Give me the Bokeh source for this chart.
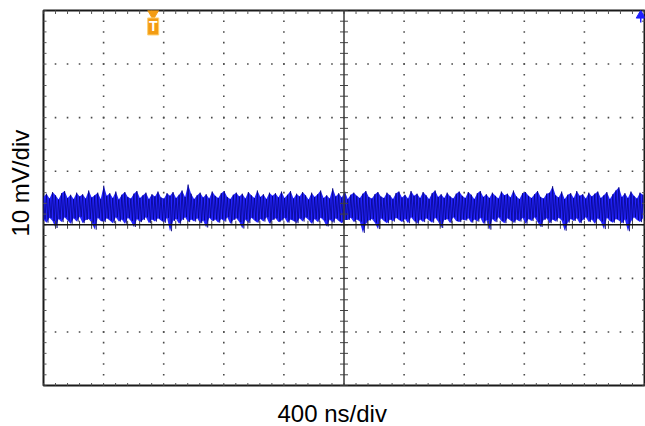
import numpy as np
from bokeh.plotting import figure
from bokeh.models import Range1d, Span, Title
from bokeh.core.properties import value
from bokeh.embed import file_html
from bokeh.resources import INLINE

# ---- scope settings ----
x_div_ns = 400          # 400 ns/div
y_div_mv = 10           # 10 mV/div
x_min, x_max = -2000, 2000
y_min, y_max = -30, 40
trigger_ns = -1270
ch_marker_ns = 1975
x_label = "400 ns/div"
y_label = "10 mV/div"

# ---- trace: per-sample upper / lower excursions (mV) ----
hi_mv = [5.2, 5.8, 4.9, 6.1, 5.5, 4.7, 5.9, 6.3, 5.0, 5.6, 4.8, 6.0, 5.3, 5.7, 4.9, 6.4, 5.1, 5.5, 6.0, 4.8,
         7.3, 5.4, 5.9, 5.0, 6.2, 4.7, 5.6, 6.1, 5.2, 4.9, 5.8, 6.3, 5.0, 5.5, 6.0, 4.8, 5.7, 5.3, 6.2, 5.1,
         4.9, 5.9, 5.4, 6.1, 5.0, 5.6, 6.4, 5.2, 7.5, 5.8, 4.8, 5.5, 6.0, 5.1, 5.7, 4.9, 6.2, 5.4, 5.0, 5.9,
         6.3, 5.2, 4.8, 5.6, 6.0, 5.3, 5.8, 4.9, 6.1, 5.5, 5.0, 6.4, 5.2, 5.7, 4.8, 6.0, 5.4, 5.9, 5.1, 6.2,
         5.0, 5.6, 6.3, 4.9, 5.8, 5.3, 6.1, 5.5, 4.7, 6.0, 5.2, 5.7, 6.4, 5.0, 5.5, 4.9, 6.8, 5.3, 5.9, 5.1,
         6.2, 4.8, 5.6, 6.0, 5.4, 5.0, 5.8, 6.3, 5.2, 4.9, 5.7, 6.1, 5.3, 5.0, 6.0, 5.5, 4.8, 5.9, 6.2, 5.1,
         5.6, 4.9, 6.3, 5.4, 5.8, 5.0, 6.1, 5.5, 4.8, 5.9, 6.4, 5.2, 5.7, 5.0, 6.0, 5.3, 4.9, 5.8, 6.2, 5.4,
         5.0, 6.1, 5.6, 4.8, 5.9, 6.3, 5.2, 5.7, 5.0, 6.0, 5.4, 4.9, 6.2, 5.5, 5.8, 5.1, 6.4, 5.3, 4.8, 5.9,
         6.1, 5.4, 5.0, 5.7, 6.3, 5.2, 4.9, 5.8, 6.0, 7.2, 5.5, 5.1, 6.2, 4.8, 5.6, 5.9, 5.0, 6.3, 5.4, 5.7,
         4.9, 6.0, 5.3, 5.8, 6.2, 5.0, 5.5, 6.1, 4.8, 5.7, 6.4, 7.0, 5.2, 5.9, 5.0, 6.2, 5.4, 4.9, 6.0, 5.6]
lo_mv = [1.0, 0.4, 1.3, 0.7, -0.6, 1.1, 0.5, 1.4, 0.8, 0.2, 1.2, 0.6, 1.5, 0.3, 0.9, 1.1, 0.4, -0.9, 1.3, 0.7,
         0.5, 1.2, 0.8, 0.3, 1.4, 0.6, 1.0, 0.2, 1.3, 0.7, -0.4, 1.1, 0.5, 0.9, 1.4, 0.3, 1.0, 0.6, 1.2, 0.8,
         0.4, 1.3, -1.2, 0.7, 1.1, 0.2, 0.9, 1.4, 0.5, 1.0, 0.6, 1.2, 0.3, 0.8, -0.5, 1.3, 0.7, 1.0, 0.4, 1.1,
         0.6, 1.4, 0.2, 0.9, 1.2, 0.5, -0.7, 1.0, 0.3, 1.3, 0.8, 0.4, 1.1, 0.6, 1.4, 0.2, 0.9, 1.2, 0.5, 0.8,
         1.3, 0.4, 1.0, 0.7, 0.3, 1.2, 0.6, 1.4, 0.9, 0.2, 1.1, 0.5, 1.3, 0.8, -0.3, 1.0, 0.4, 1.2, 0.7, 0.3,
         0.9, 0.9, 1.3, 0.5, 1.0, 0.6, -1.5, 0.2, 0.8, 1.1, 0.4, -0.8, 1.2, 0.7, 0.3, 1.0, 0.6, 1.3, 0.9, 0.5,
         1.1, 0.3, 1.4, 0.7, 0.2, 1.0, 0.5, 1.2, 0.8, 0.4, 1.3, 0.6, -0.6, 0.9, 1.1, 0.3, 1.4, 0.7, 0.5, 1.0,
         0.8, 1.2, 0.4, 1.0, 0.6, 1.3, 0.2, 0.9, -0.9, 1.1, 0.5, 1.4, 0.7, 0.3, 1.2, 0.8, 0.4, 1.0, 0.6, 1.3,
         0.2, 1.1, 0.7, 1.4, 0.5, -0.4, 0.9, 1.2, 0.3, 1.0, 0.6, 1.3, 0.8, -1.1, 0.4, 1.1, 0.7, 1.2, 0.3, 0.9,
         1.4, 0.5, 1.0, 0.2, 1.2, 0.6, -0.8, 1.3, 0.7, 0.4, 1.1, 0.8, 0.3, 1.0, -1.2, 0.6, 1.4, 0.9, 0.5, 1.2]

FONT = "Liberation Sans"
ORANGE = "#f39c12"

n = len(hi_mv)
t_ns = np.linspace(x_min, x_max, 2 * n)
v_mv = np.empty(2 * n)
v_mv[0::2] = hi_mv
v_mv[1::2] = lo_mv
t_pair = t_ns[0::2]

FRAME_W, FRAME_H = 601, 376
LEFT, TOP = 43, 10
p = figure(width=645, height=426,
           x_range=Range1d(x_min, x_max), y_range=Range1d(y_min, y_max),
           x_axis_location=None, y_axis_location=None,
           toolbar_location=None, output_backend="svg",
           min_border_left=LEFT, min_border_right=1, min_border_top=TOP, min_border_bottom=40,
           outline_line_color="#1a1a1a", outline_line_width=2,
           background_fill_color="white", border_fill_color="white")
p.xgrid.visible = False
p.ygrid.visible = False

mv_per_px = (y_max - y_min) / FRAME_H

# ---- graticule ----
x_major = np.arange(x_min, x_max + 1, x_div_ns)
y_major = np.arange(y_min, y_max + 1, y_div_mv)
x_minor = np.arange(x_min, x_max + 1, x_div_ns / 5)
y_minor = np.arange(y_min, y_max + 0.001, y_div_mv / 5)
x_inner = [x for x in x_major if x_min < x < x_max and x != 0]
y_inner = [y for y in y_major if y_min < y < y_max and y != 0]

gx, gy = [], []
for x in x_inner:
    for y in y_minor:
        gx.append(x); gy.append(y)
for y in y_inner:
    for x in x_minor:
        gx.append(x); gy.append(y)
p.scatter(gx, gy, marker="square", size=1.6, color="#4a4a4a", line_width=0)

# trace: filled envelope + sample line
p.varea(x=t_pair, y1=lo_mv, y2=hi_mv, fill_color="#2424ff", fill_alpha=1.0)
p.line(t_ns, v_mv, line_color="#000070", line_width=0.9, line_alpha=0.7)

# centre lines
p.add_layout(Span(location=0, dimension="height", line_color="#3a3a3a", line_width=1.5))
p.add_layout(Span(location=0, dimension="width", line_color="#111111", line_width=1.5))

# ticks on centre lines
p.scatter([0] * len(y_minor), y_minor, marker="dash", size=8, line_color="#444444", line_width=1)
p.scatter(x_minor, [0] * len(x_minor), marker="dash", angle=np.pi / 2, size=8,
          line_color="#444444", line_width=1)
# ticks on border
p.scatter(x_minor, [y_max] * len(x_minor), marker="dash", angle=np.pi / 2, size=7,
          line_color="#555555", line_width=1)
p.scatter(x_minor, [y_min] * len(x_minor), marker="dash", angle=np.pi / 2, size=5,
          line_color="#555555", line_width=1)
p.scatter([x_min] * len(y_minor), y_minor, marker="dash", size=6,
          line_color="#555555", line_width=1)
p.scatter([x_max] * len(y_minor), y_minor, marker="dash", size=5,
          line_color="#555555", line_width=1)

# trigger marker
p.scatter([trigger_ns], [y_max - 3 * mv_per_px], marker="inverted_triangle", size=11,
          fill_color=ORANGE, line_color=ORANGE)
p.rect([trigger_ns], [y_max - 16 * mv_per_px], width=11, height=17,
       width_units="screen", height_units="screen",
       fill_color=ORANGE, line_color="#ffcf70", line_width=1)
p.text([trigger_ns], [y_max - 16 * mv_per_px], text=["T"], text_color="white",
       text_font=value(FONT), text_font_style="bold", text_font_size="14px",
       text_align="center", text_baseline="middle")

# channel marker
p.scatter([ch_marker_ns], [y_max - 5 * mv_per_px], marker="triangle", size=9,
          fill_color="#2020ff", line_color="#2020ff")
p.segment([ch_marker_ns], [y_max - 12 * mv_per_px], [ch_marker_ns], [y_max - 6 * mv_per_px],
          line_color="#2020ff", line_width=1.5)

# axis labels (blank spacer titles push them outward)
p.add_layout(Title(text=" ", standoff=0, text_font=FONT, text_font_size="5px"), "left")
p.add_layout(Title(text=y_label, align="left", offset=149, standoff=0, vertical_align="top",
                   text_font=FONT, text_font_size="24px", text_font_style="normal",
                   text_color="black"), "left")
p.add_layout(Title(text=" ", standoff=0, text_font=FONT, text_font_size="9px"), "below")
p.add_layout(Title(text=x_label, align="left", offset=234, standoff=0,
                   text_font=FONT, text_font_size="24px", text_font_style="normal",
                   text_color="black"), "below")

open("out.html", "w").write(file_html(p, INLINE))
